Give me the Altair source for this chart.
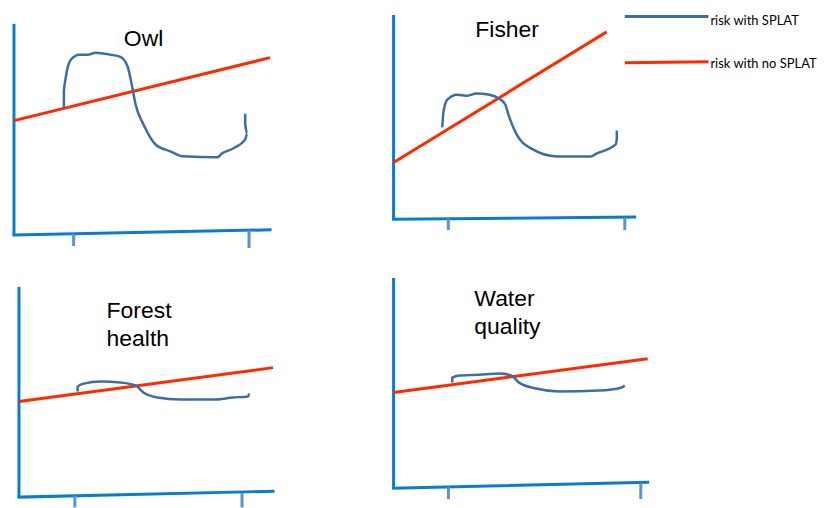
import altair as alt
import pandas as pd

# ---------------- data (units: x-axis length = 100, y-axis height = 100) -------------
owl_blue_x = [19.5, 19.5, 20.2, 22.2, 25.5, 28.8, 31.9, 37.7, 41.6, 44.4, 46.3, 47.5, 50.6, 55.3, 61.1, 65.8, 79.4, 81.3, 85.6, 90.3, 91.1, 90.3, 90.3]
owl_blue_y = [59.9, 67.9, 74.5, 83.0, 85.4, 85.4, 86.3, 85.4, 84.4, 79.7, 69.3, 61.8, 52.4, 42.9, 39.6, 37.3, 36.8, 38.7, 41.0, 45.3, 48.1, 52.8, 57.5]
owl_red_x = [0, 100]
owl_red_y = [54.2, 84.0]
owl_axis_x = [0, 100]
owl_axis_y = [0, 2.5]
owl_axis_top = 100
owl_ticks_x = [23.3, 91.8]
owl_ticks_top = [0.6, 2.3]
owl_ticks_bottom = [-5.2, -6.1]

fisher_blue_x = [20.2, 20.7, 22.3, 26.4, 30.6, 34.3, 39.7, 43.8, 46.3, 47.9, 50.8, 57.0, 67.8, 81.8, 84.3, 92.1, 92.6, 92.6]
fisher_blue_y = [43.8, 51.4, 57.1, 59.5, 59.0, 60.0, 59.5, 57.6, 54.8, 49.0, 41.0, 33.8, 30.0, 30.0, 31.4, 35.7, 38.6, 42.4]
fisher_red_x = [0, 88.4]
fisher_red_y = [27.1, 89.5]
fisher_axis_x = [0, 100]
fisher_axis_y = [0, 1.0]
fisher_axis_top = 97.6
fisher_ticks_x = [22.7, 95.9]
fisher_ticks_top = [0.2, 0.7]
fisher_ticks_bottom = [-5.2, -5.2]

forest_blue_x = [23.1, 23.1, 25.5, 32.2, 40.0, 45.9, 49.0, 54.5, 63.5, 76.5, 84.3, 90.2, 90.6]
forest_blue_y = [50.2, 52.6, 54.0, 55.0, 54.5, 53.1, 49.8, 47.4, 46.4, 46.4, 47.4, 47.9, 49.3]
forest_red_x = [0, 100]
forest_red_y = [45.5, 61.6]
forest_axis_x = [0, 100]
forest_axis_y = [0, 2.8]
forest_axis_top = 100
forest_ticks_x = [22.0, 87.8]
forest_ticks_top = [0.6, 1.9]
forest_ticks_bottom = [-4.9, -4.9]

water_blue_x = [23.1, 23.1, 25.9, 33.7, 41.6, 46.3, 49.4, 56.1, 65.1, 80.8, 89.8, 91.0]
water_blue_y = [50.2, 52.6, 53.6, 54.0, 54.5, 53.6, 50.2, 47.4, 46.0, 46.4, 47.9, 48.8]
water_red_x = [0, 100]
water_red_y = [45.5, 61.6]
water_axis_x = [0, 100]
water_axis_y = [0, 2.8]
water_axis_top = 100
water_ticks_x = [21.6, 97.3]
water_ticks_top = [0.5, 2.4]
water_ticks_bottom = [-5.2, -5.2]

titles = [["Owl"], ["Fisher"], ["Forest", "health"], ["Water", "quality"]]
title_x = [50.6, 47.1, 34.5, 31.8]
title_y = [92.9, 90.5, 88.6, 90.0]
title_align = ["center", "center", "left", "left"]

legend_labels = ["risk with SPLAT", "risk with no SPLAT"]
legend_line_x = [95.9, 130.6]
legend_line_y = [[96.9, 96.9], [74.8, 75.2]]
legend_text_x = 131.4
legend_text_y = [94.6, 74.3]

# ---------------- style ----------------
AXIS_C = "#0a7ccf"
TICK_C = "#5b92cf"
BLUE_C = "#3f6d9e"
RED_C = "#ff2a00"
FONT = "Liberation Sans"

# panel geometry (pixels): origin, unit size, cell
X0, Y0 = 8, 8
W1, W2, H1, H2 = 322, 488, 254, 240
C, R = X0 + W1, Y0 + H1
geo = [
    dict(ox=13, oy=234, sx=2.57, sy=2.12, cx=(X0, C), cy=(Y0, R)),
    dict(ox=394, oy=218, sx=2.42, sy=2.10, cx=(C, C + W2), cy=(Y0, R)),
    dict(ox=18, oy=497, sx=2.55, sy=2.11, cx=(X0, C), cy=(R, R + H2)),
    dict(ox=394, oy=488, sx=2.55, sy=2.11, cx=(C, C + W2), cy=(R, R + H2)),
]


def line_df(xs, ys):
    return pd.DataFrame({"x": xs, "y": ys, "o": list(range(len(xs)))})


def panel(i, blue, red, axis, ytop, ticks, legend=False):
    g = geo[i]
    xd = [(g["cx"][0] - g["ox"]) / g["sx"], (g["cx"][1] - g["ox"]) / g["sx"]]
    yd = [(g["oy"] - g["cy"][1]) / g["sy"], (g["oy"] - g["cy"][0]) / g["sy"]]
    X = alt.X("x:Q", scale=alt.Scale(domain=xd, nice=False, zero=False), axis=None)
    Y = alt.Y("y:Q", scale=alt.Scale(domain=yd, nice=False, zero=False), axis=None)
    W = g["cx"][1] - g["cx"][0]
    H = g["cy"][1] - g["cy"][0]

    yaxis = alt.Chart(line_df([0, 0], [0, ytop])).mark_line(
        color=AXIS_C, strokeWidth=3, strokeCap="butt").encode(x=X, y=Y, order="o:Q")
    xaxis = alt.Chart(line_df(*axis)).mark_line(
        color=AXIS_C, strokeWidth=3, strokeCap="square").encode(x=X, y=Y, order="o:Q")
    tdf = pd.DataFrame({"x": ticks[0], "y": ticks[1], "y2": ticks[2]})
    tk = alt.Chart(tdf).mark_rule(color=TICK_C, strokeWidth=3).encode(
        x=X, y=Y, y2="y2:Q")
    red_l = alt.Chart(line_df(*red)).mark_line(
        color=RED_C, strokeWidth=3).encode(x=X, y=Y, order="o:Q")
    blue_l = alt.Chart(line_df(*blue)).mark_line(
        color=BLUE_C, strokeWidth=2.5, interpolate="monotone").encode(x=X, y=Y, order="o:Q")
    tl = pd.DataFrame({"x": [title_x[i]], "y": [title_y[i]], "t": [titles[i]]})
    title = alt.Chart(tl).mark_text(
        font=FONT, fontSize=23, color="black", align=title_align[i],
        baseline="middle", lineHeight=28).encode(x=X, y=Y, text="t")
    layers = [yaxis, xaxis, tk, red_l, blue_l, title]
    if legend:
        colors = [BLUE_C, RED_C]
        for k in range(2):
            ll = alt.Chart(line_df(legend_line_x, legend_line_y[k])).mark_line(
                color=colors[k], strokeWidth=3).encode(x=X, y=Y, order="o:Q")
            lt = alt.Chart(pd.DataFrame({"x": [legend_text_x], "y": [legend_text_y[k]],
                                         "t": [legend_labels[k]]})).mark_text(
                font="Lato", fontSize=13, color="black", align="left",
                baseline="middle").encode(x=X, y=Y, text="t")
            layers += [ll, lt]
    return alt.layer(*layers).properties(width=W, height=H)


p1 = panel(0, (owl_blue_x, owl_blue_y), (owl_red_x, owl_red_y), (owl_axis_x, owl_axis_y),
           owl_axis_top, (owl_ticks_x, owl_ticks_top, owl_ticks_bottom))
p2 = panel(1, (fisher_blue_x, fisher_blue_y), (fisher_red_x, fisher_red_y),
           (fisher_axis_x, fisher_axis_y), fisher_axis_top,
           (fisher_ticks_x, fisher_ticks_top, fisher_ticks_bottom), legend=True)
p3 = panel(2, (forest_blue_x, forest_blue_y), (forest_red_x, forest_red_y),
           (forest_axis_x, forest_axis_y), forest_axis_top,
           (forest_ticks_x, forest_ticks_top, forest_ticks_bottom))
p4 = panel(3, (water_blue_x, water_blue_y), (water_red_x, water_red_y),
           (water_axis_x, water_axis_y), water_axis_top,
           (water_ticks_x, water_ticks_top, water_ticks_bottom))

chart = alt.concat(p1, p2, p3, p4, columns=2, spacing=0, bounds="flush").properties(
    padding=0).configure_view(stroke=None)

chart.save("out.html", embed_options={"renderer": "svg", "actions": False})
